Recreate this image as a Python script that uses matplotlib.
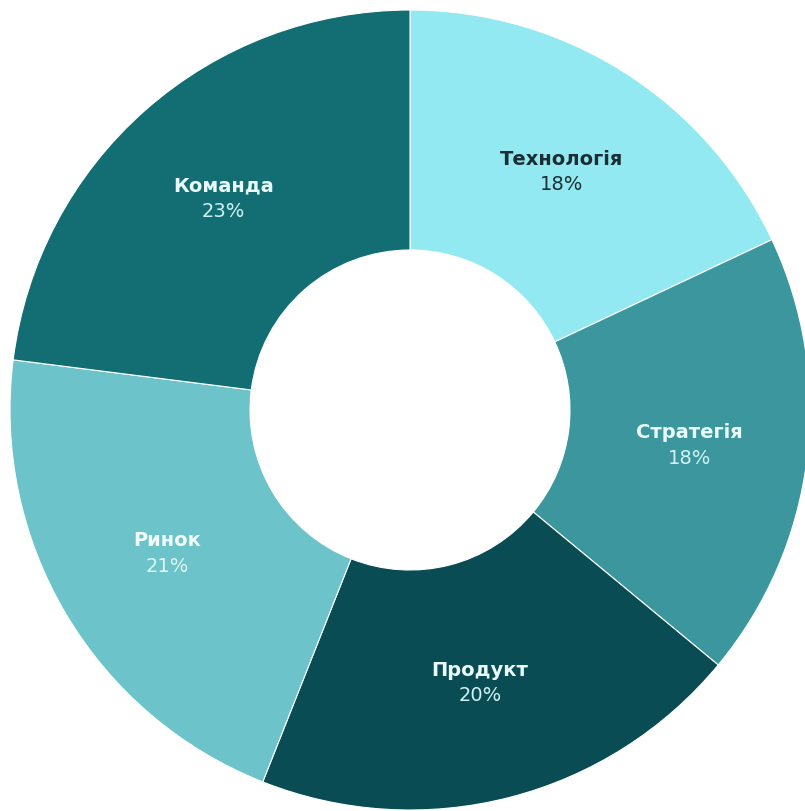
import matplotlib
matplotlib.use("Agg")
import matplotlib.pyplot as plt
import numpy as np

categories = ["Технологія", "Стратегія", "Продукт", "Ринок", "Команда"]
values = [18, 18, 20, 21, 23]
colors = ["#93E9F1", "#3B979D", "#0A4C53", "#6CC3C9", "#126E73"]
name_colors = ["#1B2E33", "#EAFBFC", "#EAFBFC", "#F2FCFD", "#EAFBFC"]
pct_colors = ["#1B2E33", "#CFF4F7", "#CFF4F7", "#DDF7F9", "#CFF4F7"]

W, H = 805, 811
cx, cy, R = 410, 410, 400
fig = plt.figure(figsize=(W / 100, H / 100), dpi=100)
ax = fig.add_axes([0, 0, 1, 1])

wedges, _ = ax.pie(values, colors=colors, startangle=90, counterclock=False,
                   radius=1.0, wedgeprops=dict(width=0.6, edgecolor="white", linewidth=0.8))

total = sum(values)
start = 90.0
for cat, v, nc, pc in zip(categories, values, name_colors, pct_colors):
    ang = start - 360 * v / total / 2
    start -= 360 * v / total
    r = 0.705
    x = r * np.cos(np.radians(ang))
    y = r * np.sin(np.radians(ang))
    ax.text(x, y + 0.032, cat, ha="center", va="center", fontsize=14,
            fontweight="bold", color=nc)
    ax.text(x, y - 0.032, f"{v}%", ha="center", va="center", fontsize=14,
            color=pc)

ax.set_aspect("auto")
ax.set_xlim(-cx / R, (W - cx) / R)
ax.set_ylim(-(H - cy) / R, cy / R)
ax.axis("off")

fig.savefig("out.png", dpi=100)
